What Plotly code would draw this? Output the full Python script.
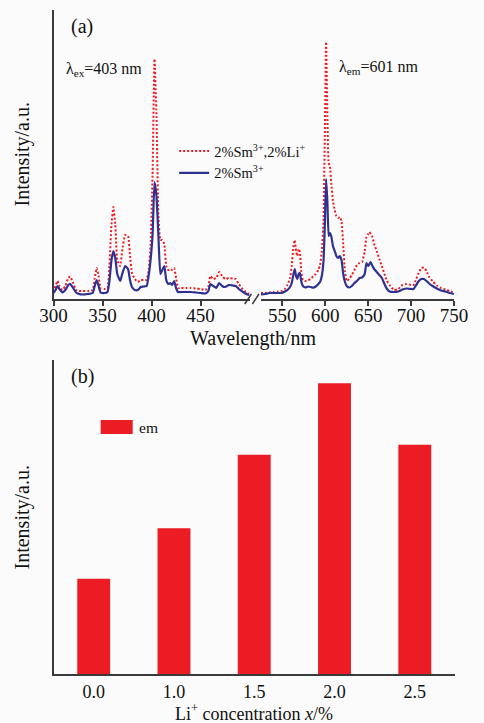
import plotly.graph_objects as go

W, H = 484, 723
FONT = "Liberation Serif, Times New Roman, DejaVu Serif, serif"
RED = "#ec1c24"
BLUE = "#2e3192"
AX = "#3a3a3a"

# ---------------- data: panel (a) -----------------
ex_wl = [300, 302, 304, 306, 309, 312, 315, 317, 320, 323, 326, 330, 335, 340, 342, 344, 346, 348,
         352, 355, 357, 359, 361, 363, 365, 368, 370, 373, 376, 378, 380, 383, 386, 389, 392, 395,
         397, 399, 401, 403, 405, 407, 409, 411, 413, 415, 417, 419, 421, 423, 425, 427, 430, 435,
         440, 445, 450, 455, 458, 460, 463, 466, 469, 472, 475, 479, 483, 486, 489, 492, 495, 498, 500]
ex_sm = [3, 6, 10, 7, 3.5, 6, 11, 12, 8, 3.5, 2, 1.5, 2, 3, 10, 16, 10, 3.5,
         3, 4, 15, 35, 45, 38, 22, 15, 22, 30, 27, 16, 9, 6, 6, 9, 9.5, 10,
         20, 36, 60, 114, 100, 60, 22, 26, 30, 16, 12, 13, 11, 15, 8, 4, 4, 4,
         4, 3.5, 3, 2.5, 5, 12, 10, 8, 13, 10, 9, 11, 10.5, 10, 7, 5, 3, 1.5, 1]
ex_li = [4, 10, 15, 10, 6, 10, 18, 19.5, 13, 6, 5, 5, 5, 6, 18, 28, 20, 7.5,
         7, 8, 30, 70, 89, 72, 36, 30, 45, 61, 60, 40, 23, 17, 14, 16, 16, 16,
         25, 50, 120, 237, 180, 80, 56, 56, 52, 30, 26, 27, 26, 28, 18, 8, 8, 8,
         8, 7.5, 7, 6, 10, 20, 17, 18, 24, 20, 17, 18, 17.5, 17, 12, 8, 5, 3, 2]

em_wl = [525, 530, 535, 540, 545, 550, 553, 556, 559, 561, 563, 564.5, 566, 567.5, 569, 570.5, 572,
         574, 577, 580, 583, 586, 589, 592, 594, 596, 598, 599.5, 601, 602.5, 604, 605.5, 607, 609,
         611, 613, 615, 617, 619, 621, 623, 625, 628, 631, 634, 637, 640, 643, 646, 648, 650, 651.5,
         653, 655, 657, 660, 663, 666, 669, 672, 675, 680, 685, 690, 695, 700, 703, 706, 709, 712,
         715, 718, 721, 725, 730, 735, 740, 745, 750]
em_sm = [1.5, 2, 3, 3, 3, 3.3, 4.5, 6, 9, 13, 22, 27, 20, 17, 22, 23, 15,
         10, 8.5, 9.5, 9, 8.3, 9.5, 12, 14, 20, 35, 70, 117, 95, 60, 63, 60, 50,
         45, 40, 38, 40, 36, 22, 14, 10, 8.5, 10, 13, 15, 18, 18.5, 22, 33, 30, 32,
         34, 30, 27, 24, 21, 18, 12, 7, 4.5, 4, 4.5, 6.5, 7.5, 7, 7, 11, 15, 17,
         17, 15, 12.5, 10, 7.5, 5.5, 4.5, 3, 2]
em_li = [3, 3, 3.5, 4, 4.5, 5.3, 7, 11, 18, 30, 50, 56, 45, 40, 47, 44, 25,
         16, 15, 15.7, 17, 19.7, 22, 26, 31, 45, 75, 160, 254, 180, 133, 130, 113, 95,
         86, 80, 78, 79, 75, 50, 25, 15, 17, 21, 26, 31, 33, 34, 45, 59, 62, 64,
         62, 59, 52, 45, 37, 30, 22, 15, 11, 6, 7, 11, 12, 11, 11, 17, 23, 28,
         28.5, 25, 19, 15, 10.5, 8, 6.5, 5, 3.3]

ticks_left = [300, 350, 400, 450]
ticks_right = [550, 600, 650, 700, 750]

name_li = "2%Sm<sup>3+</sup>,2%Li<sup>+</sup>"
name_sm = "2%Sm<sup>3+</sup>"

# ---------------- data: panel (b) -----------------
conc = ["0.0", "1.0", "1.5", "2.0", "2.5"]
em_int = [30.3, 46.4, 69.8, 92.6, 73.0]


def px(x):
    return x / W


def py(y):
    return 1 - y / H


fig = go.Figure()

red_line = dict(color=RED, width=2, dash="2px,2px", shape="spline", smoothing=0.4)
blue_line = dict(color=BLUE, width=2.2, shape="spline", smoothing=0.4)

# panel (a) traces
fig.add_trace(go.Scatter(x=ex_wl, y=ex_li, mode="lines", name=name_li, legendgroup="li",
                         line=red_line, xaxis="x", yaxis="y"))
fig.add_trace(go.Scatter(x=em_wl, y=em_li, mode="lines", name=name_li, legendgroup="li",
                         showlegend=False, line=red_line, xaxis="x2", yaxis="y"))
fig.add_trace(go.Scatter(x=ex_wl, y=ex_sm, mode="lines", name=name_sm, legendgroup="sm",
                         line=blue_line, xaxis="x", yaxis="y"))
fig.add_trace(go.Scatter(x=em_wl, y=em_sm, mode="lines", name=name_sm, legendgroup="sm",
                         showlegend=False, line=blue_line, xaxis="x2", yaxis="y"))

# panel (b) bars
fig.add_trace(go.Bar(x=conc, y=em_int, name="em", marker=dict(color=RED, line=dict(width=0)),
                     width=0.41, showlegend=False, xaxis="x3", yaxis="y3"))

top_y0, top_y1 = 299, 10
bot_y0, bot_y1 = 674, 360

tickfont = dict(family=FONT, size=19, color="#111")
tickfont_b = dict(family=FONT, size=18, color="#111")

fig.update_layout(
    width=W, height=H,
    margin=dict(l=0, r=0, t=0, b=0),
    paper_bgcolor="#fbfbfb", plot_bgcolor="rgba(0,0,0,0)",
    font=dict(family=FONT, color="#111"),
    showlegend=True,
    legend=dict(x=px(170), y=py(135), xanchor="left", yanchor="top",
                bgcolor="rgba(0,0,0,0)", font=dict(family=FONT, size=14.5, color="#111"),
                traceorder="normal", tracegroupgap=0),
    xaxis=dict(domain=[px(42), px(250)], range=[300, 500], anchor="y",
               showline=True, linecolor=AX, linewidth=1.5, showgrid=False, zeroline=False,
               ticks="outside", ticklen=5, tickwidth=1.5, tickcolor=AX, ticklabelstandoff=-7,
               tickvals=ticks_left, tickfont=tickfont),
    xaxis2=dict(domain=[px(262), px(467)], range=[525, 750], anchor="y",
                showline=True, linecolor=AX, linewidth=1.5, showgrid=False, zeroline=False,
                ticks="outside", ticklen=5, tickwidth=1.5, tickcolor=AX, ticklabelstandoff=-7,
                tickvals=ticks_right, tickfont=tickfont),
    yaxis=dict(domain=[py(top_y0), py(top_y1)], range=[-3, 286], anchor="x",
               showline=True, linecolor=AX, linewidth=2, showgrid=False, zeroline=False,
               showticklabels=False, ticks=""),
    xaxis3=dict(domain=[px(42), px(468)], range=[-0.5, 4.5], anchor="y3", type="category",
                showline=True, linecolor=AX, linewidth=1.5, showgrid=False, zeroline=False,
                ticks="", ticklabelstandoff=1, tickfont=tickfont_b),
    yaxis3=dict(domain=[py(bot_y0), py(bot_y1)], range=[0, 100], anchor="x3",
                showline=True, linecolor=AX, linewidth=2, showgrid=False, zeroline=False,
                showticklabels=False, ticks=""),
)

ann = []


def add_text(x, y, text, size, xanchor="left", angle=0):
    ann.append(dict(x=px(x), y=py(y), xref="paper", yref="paper", text=text, showarrow=False,
                    xanchor=xanchor, yanchor="middle", textangle=angle,
                    font=dict(family=FONT, size=size, color="#111")))


add_text(58, 27, "(a)", 20)
add_text(53, 69, "λ<sub>ex</sub>=403 nm", 16)
add_text(343, 67, "λ<sub>em</sub>=601 nm", 16)
add_text(254, 338, "Wavelength/nm", 20, xanchor="center")
add_text(9, 154, "Intensity/a.u.", 20, xanchor="center", angle=-90)

add_text(58, 376, "(b)", 20)
add_text(131, 427, "em", 15.5)
add_text(9, 517, "Intensity/a.u.", 20, xanchor="center", angle=-90)
add_text(255, 712, "Li<sup>+</sup> concentration <i>x</i>/%", 18, xanchor="center")

fig.update_layout(annotations=ann)

shapes = [
    # axis break marks
    dict(type="line", xref="paper", yref="paper", x0=px(245), y0=py(304), x1=px(252), y1=py(294),
         line=dict(color=AX, width=1.5)),
    dict(type="line", xref="paper", yref="paper", x0=px(253), y0=py(304), x1=px(260), y1=py(294),
         line=dict(color=AX, width=1.5)),
    # legend swatch for panel (b)
    dict(type="rect", xref="paper", yref="paper", x0=px(92), y0=py(434), x1=px(126), y1=py(420),
         fillcolor=RED, line=dict(width=0)),
]
fig.update_layout(shapes=shapes)

fig.write_html("out.html")
